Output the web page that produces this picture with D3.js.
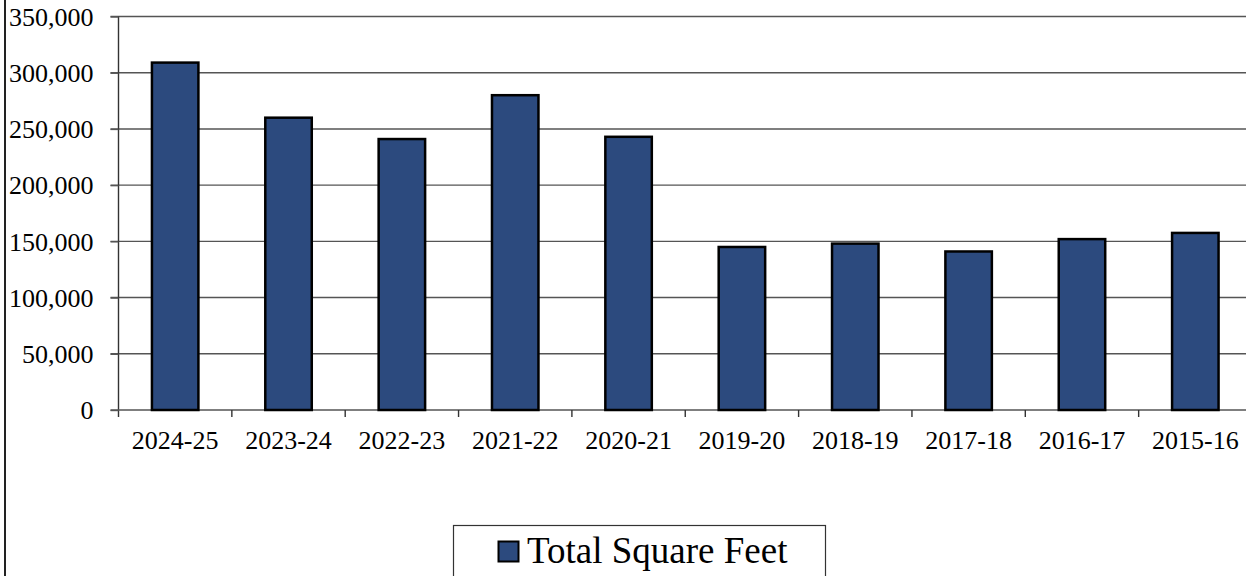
<!DOCTYPE html>
<html>
<head>
<meta charset="utf-8">
<script src="https://cdn.jsdelivr.net/npm/d3@7"></script>
<style>
  html, body { margin: 0; padding: 0; background: #fff; }
</style>
</head>
<body>
<div id="chart"></div>
<script>
// Data
const categories = ["2024-25", "2023-24", "2022-23", "2021-22", "2020-21",
  "2019-20", "2018-19", "2017-18", "2016-17", "2015-16"];
const squareFeet = [309000, 260000, 241000, 280000, 243000,
  145000, 148000, 141000, 152000, 157500];
const yTicks = [0, 50000, 100000, 150000, 200000, 250000, 300000, 350000];
const seriesName = "Total Square Feet";

const svgWidth = 1246;
const svgHeight = 576;

const plotLeft = 118.5;
const plotRight = 1252;
const plotTop = 16.5;
const plotBottom = 410;

const barColor = "#2c4a7e";
const serif = "'Liberation Serif', 'Times New Roman', serif";

const svg = d3.select("#chart")
  .append("svg")
  .attr("width", svgWidth)
  .attr("height", svgHeight);

// Scales
const xScale = d3.scaleBand()
  .domain(categories)
  .range([plotLeft, plotRight])
  .paddingInner(0.59)
  .paddingOuter(0.295);

const yScale = d3.scaleLinear()
  .domain([0, 350000])
  .range([plotBottom, plotTop]);

// chart frame (left edge only visible)
svg.append("line")
  .attr("x1", 5).attr("x2", 5)
  .attr("y1", 0).attr("y2", svgHeight)
  .attr("stroke", "#222")
  .attr("stroke-width", 2);

// gridlines
svg.append("g")
  .attr("id", "grid")
  .selectAll("line")
  .data(yTicks.filter((d) => d > 0))
  .join("line")
  .attr("x1", plotLeft - 8)
  .attr("x2", svgWidth)
  .attr("y1", (d) => yScale(d))
  .attr("y2", (d) => yScale(d))
  .attr("stroke", "#555")
  .attr("stroke-width", 1.4);

// y axis
const yAxis = svg.append("g")
  .attr("id", "y-axis")
  .attr("transform", `translate(${plotLeft},0)`)
  .call(
    d3.axisLeft(yScale)
      .tickValues(yTicks)
      .tickSize(8)
      .tickPadding(17)
      .tickFormat(d3.format(","))
      .tickSizeOuter(0)
  );
yAxis.select(".domain")
  .attr("d", `M0,${plotTop}V${plotBottom + 7}`)
  .attr("stroke", "#333")
  .attr("stroke-width", 1.4);
yAxis.selectAll(".tick line").attr("stroke", "#555").attr("stroke-width", 1.4);
yAxis.selectAll(".tick text")
  .attr("fill", "#000")
  .attr("dy", "0.34em")
  .style("font-family", serif)
  .style("font-size", "26px");

// x axis
const step = xScale.step();
const xAxis = svg.append("g").attr("id", "x-axis");
xAxis.append("line")
  .attr("x1", plotLeft - 8)
  .attr("x2", svgWidth)
  .attr("y1", plotBottom)
  .attr("y2", plotBottom)
  .attr("stroke", "#555")
  .attr("stroke-width", 1.4);
xAxis.selectAll("line.tick")
  .data(d3.range(1, categories.length))
  .join("line")
  .attr("class", "tick")
  .attr("x1", (i) => plotLeft + i * step)
  .attr("x2", (i) => plotLeft + i * step)
  .attr("y1", plotBottom)
  .attr("y2", plotBottom + 7)
  .attr("stroke", "#333")
  .attr("stroke-width", 1.4);
xAxis.selectAll("text")
  .data(categories)
  .join("text")
  .attr("x", (d) => xScale(d) + xScale.bandwidth() / 2)
  .attr("y", 449)
  .attr("text-anchor", "middle")
  .attr("fill", "#000")
  .style("font-family", serif)
  .style("font-size", "26px")
  .text((d) => d);

// bars
svg.append("g")
  .attr("id", "bars")
  .selectAll("rect")
  .data(categories.map((c, i) => ({ c, v: squareFeet[i] })))
  .join("rect")
  .attr("x", (d) => xScale(d.c))
  .attr("y", (d) => yScale(d.v))
  .attr("width", xScale.bandwidth())
  .attr("height", (d) => plotBottom - yScale(d.v))
  .attr("fill", barColor)
  .attr("stroke", "#000")
  .attr("stroke-width", 2.5);

// legend
const legend = svg.append("g").attr("id", "legend");
legend.append("rect")
  .attr("x", 453.5)
  .attr("y", 525.5)
  .attr("width", 372)
  .attr("height", 70)
  .attr("fill", "#fff")
  .attr("stroke", "#333")
  .attr("stroke-width", 1.2);
legend.append("rect")
  .attr("x", 498.5)
  .attr("y", 541.5)
  .attr("width", 20)
  .attr("height", 20)
  .attr("fill", barColor)
  .attr("stroke", "#000")
  .attr("stroke-width", 2);
legend.append("text")
  .attr("x", 527)
  .attr("y", 563)
  .attr("fill", "#000")
  .style("font-family", serif)
  .style("font-size", "37px")
  .text(seriesName);
</script>
</body>
</html>
